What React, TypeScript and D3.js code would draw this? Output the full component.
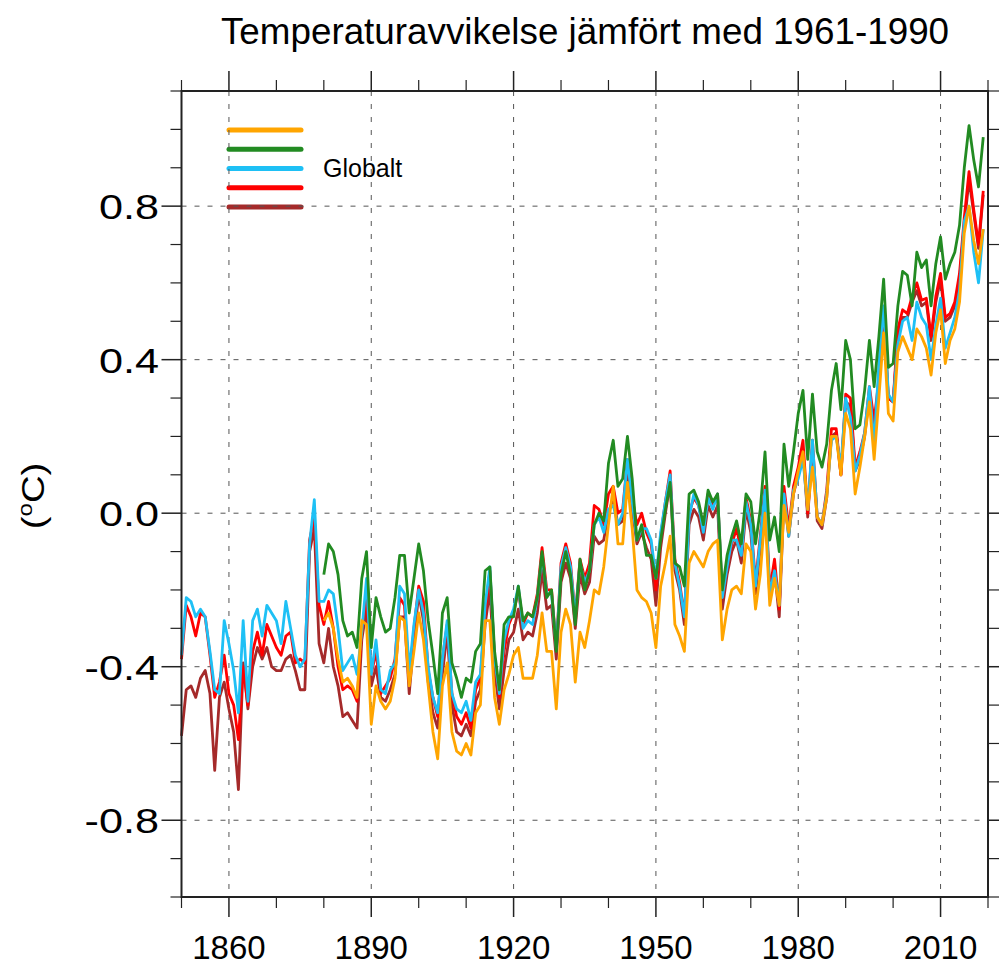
import React from "react";
import * as d3 from "d3";

// years covered by each group of series
const yearsLong = d3.range(1850, 2020); // 1850-2019
const yearsShort = d3.range(1880, 2020); // 1880-2019

// values (°C, anomaly vs 1961-1990)
const cyanValues = [
  -0.37, -0.22, -0.23, -0.27, -0.25, -0.27, -0.36, -0.46, -0.47, -0.28,
  -0.34, -0.41, -0.52, -0.28, -0.49, -0.28, -0.25, -0.32, -0.24, -0.26,
  -0.28, -0.34, -0.23, -0.3, -0.37, -0.4, -0.38, -0.08, 0.035, -0.23,
  -0.23, -0.2, -0.21, -0.3, -0.41, -0.39, -0.37, -0.42, -0.31, -0.17,
  -0.42, -0.33, -0.46, -0.47, -0.41, -0.39, -0.19, -0.21, -0.41, -0.29,
  -0.2, -0.26, -0.4, -0.48, -0.52, -0.38, -0.28, -0.47, -0.51, -0.52,
  -0.49, -0.54, -0.44, -0.42, -0.24, -0.14, -0.38, -0.47, -0.33, -0.28,
  -0.25, -0.19, -0.3, -0.28, -0.29, -0.22, -0.11, -0.21, -0.21, -0.35,
  -0.14, -0.09, -0.14, -0.27, -0.13, -0.18, -0.15, -0.03, -0.01, -0.05,
  0.01, 0.02, -0.03, 0.0, 0.14, 0.03, -0.07, -0.04, -0.04, -0.07,
  -0.17, -0.05, 0.03, 0.1, -0.13, -0.19, -0.27, -0.01, 0.05, 0.02,
  -0.05, 0.04, 0.01, 0.05, -0.22, -0.14, -0.07, -0.07, -0.11, 0.03,
  -0.03, -0.19, -0.07, 0.06, -0.21, -0.15, -0.24, 0.05, -0.06, 0.06,
  0.09, 0.14, 0.01, 0.19, -0.01, -0.03, 0.05, 0.19, 0.2, 0.12,
  0.3, 0.25, 0.11, 0.15, 0.21, 0.33, 0.18, 0.39, 0.54, 0.31,
  0.29, 0.44, 0.5, 0.51, 0.45, 0.55, 0.51, 0.49, 0.4, 0.49,
  0.56, 0.43, 0.47, 0.51, 0.58, 0.76, 0.8, 0.68, 0.6, 0.74,
];

const redValues = [
  -0.38, -0.24, -0.27, -0.32, -0.26, -0.27, -0.37, -0.48, -0.44, -0.37,
  -0.47, -0.5, -0.59, -0.4, -0.5, -0.36, -0.31, -0.37, -0.29, -0.32,
  -0.35, -0.37, -0.32, -0.31, -0.39, -0.38, -0.39, -0.07, -0.01, -0.24,
  -0.29, -0.23, -0.3, -0.4, -0.46, -0.45, -0.46, -0.49, -0.3, -0.22,
  -0.42, -0.36, -0.47, -0.45, -0.43, -0.38, -0.22, -0.24, -0.44, -0.3,
  -0.19, -0.23, -0.41, -0.48, -0.53, -0.38, -0.29, -0.47, -0.53, -0.55,
  -0.52, -0.56, -0.46, -0.43, -0.26, -0.15, -0.38, -0.48, -0.36, -0.29,
  -0.26, -0.2, -0.29, -0.26, -0.27, -0.21, -0.09, -0.2, -0.2, -0.35,
  -0.13, -0.08, -0.13, -0.27, -0.12, -0.17, -0.13, 0.02, 0.01, -0.03,
  0.05, 0.07, 0.0, 0.01, 0.14, 0.04, -0.03, 0.0, -0.05, -0.08,
  -0.2, -0.06, 0.03, 0.11, -0.12, -0.18, -0.27, 0.0, 0.04, 0.02,
  -0.04, 0.05, 0.02, 0.05, -0.22, -0.14, -0.08, -0.04, -0.1, 0.04,
  -0.02, -0.18, -0.06, 0.07, -0.2, -0.12, -0.25, 0.07, -0.04, 0.07,
  0.12, 0.19, 0.0, 0.19, -0.01, -0.03, 0.06, 0.22, 0.22, 0.1,
  0.31, 0.3, 0.12, 0.16, 0.21, 0.33, 0.24, 0.35, 0.53, 0.3,
  0.29, 0.48, 0.53, 0.52, 0.565, 0.6, 0.555, 0.56, 0.46, 0.565,
  0.625, 0.51, 0.52, 0.55, 0.625, 0.77, 0.89, 0.79, 0.7, 0.84,
];

const brownValues = [
  -0.58, -0.46, -0.45, -0.48, -0.43, -0.41, -0.47, -0.67, -0.48, -0.44,
  -0.51, -0.57, -0.72, -0.39, -0.51, -0.4, -0.35, -0.38, -0.35, -0.4,
  -0.41, -0.41, -0.38, -0.37, -0.41, -0.46, -0.46, -0.1, -0.04, -0.34,
  -0.39, -0.3, -0.4, -0.45, -0.53, -0.52, -0.54, -0.56, -0.33, -0.25,
  -0.45, -0.4, -0.48, -0.49, -0.46, -0.42, -0.27, -0.27, -0.47, -0.33,
  -0.21, -0.28, -0.44, -0.52, -0.56, -0.42, -0.31, -0.5, -0.57, -0.58,
  -0.55, -0.58, -0.49, -0.46, -0.29, -0.2, -0.41, -0.51, -0.41, -0.33,
  -0.31, -0.25, -0.33, -0.31, -0.32, -0.26, -0.15, -0.25, -0.24, -0.38,
  -0.18, -0.13, -0.17, -0.3, -0.16, -0.21, -0.18, -0.06, -0.08, -0.07,
  0.0, 0.04, -0.03, -0.02, 0.1, 0.01, -0.08, -0.05, -0.09, -0.12,
  -0.24, -0.09, 0.0, 0.08, -0.15, -0.2, -0.29, -0.03, 0.01, -0.01,
  -0.07, 0.02, -0.01, 0.02, -0.25, -0.16, -0.1, -0.07, -0.13, 0.01,
  -0.05, -0.21, -0.09, 0.05, -0.22, -0.15, -0.27, 0.04, -0.06, 0.05,
  0.1, 0.16, -0.01, 0.17, -0.02, -0.04, 0.04, 0.2, 0.21, 0.1,
  0.29, 0.28, 0.11, 0.14, 0.2, 0.31, 0.22, 0.34, 0.51, 0.3,
  0.29, 0.46, 0.51, 0.51, 0.55, 0.58, 0.54, 0.55, 0.45, 0.55,
  0.61, 0.5, 0.51, 0.54, 0.61, 0.75, 0.87, 0.78, 0.69, 0.83,
];

const greenValues = [
  -0.16, -0.08, -0.1, -0.16, -0.28, -0.32, -0.31, -0.35, -0.17, -0.1,
  -0.35, -0.22, -0.27, -0.31, -0.3, -0.22, -0.11, -0.11, -0.26, -0.17,
  -0.08, -0.15, -0.28, -0.37, -0.47, -0.26, -0.22, -0.39, -0.43, -0.48,
  -0.43, -0.44, -0.36, -0.34, -0.15, -0.14, -0.36, -0.46, -0.29, -0.27,
  -0.27, -0.19, -0.28, -0.26, -0.27, -0.22, -0.1, -0.22, -0.2, -0.36,
  -0.16, -0.1, -0.16, -0.29, -0.12, -0.2, -0.15, -0.03, 0.0, -0.02,
  0.13, 0.19, 0.07, 0.09, 0.2, 0.09, -0.07, -0.03, -0.11, -0.11,
  -0.17, -0.07, 0.01, 0.08, -0.13, -0.14, -0.19, 0.05, 0.06, 0.03,
  -0.03, 0.06, 0.03, 0.05, -0.2, -0.11, -0.06, -0.02, -0.08, 0.05,
  0.03, -0.08, 0.01, 0.16, -0.07, -0.01, -0.1, 0.18, 0.07, 0.16,
  0.26, 0.32, 0.14, 0.31, 0.16, 0.12, 0.18, 0.32, 0.39, 0.27,
  0.45, 0.4, 0.22, 0.23, 0.32, 0.45, 0.33, 0.46, 0.61, 0.38,
  0.39, 0.54, 0.63, 0.62, 0.54, 0.68, 0.64, 0.66, 0.54, 0.65,
  0.72, 0.61, 0.65, 0.68, 0.75, 0.9, 1.01, 0.92, 0.85, 0.98,
];

const orangeValues = [
  -0.28, -0.26, -0.3, -0.38, -0.44, -0.43, -0.45, -0.48, -0.28, -0.29,
  -0.55, -0.45, -0.49, -0.51, -0.49, -0.43, -0.27, -0.28, -0.45, -0.36,
  -0.26, -0.33, -0.45, -0.57, -0.64, -0.45, -0.39, -0.57, -0.62, -0.63,
  -0.6, -0.63, -0.52, -0.5, -0.28, -0.28, -0.48, -0.55, -0.46, -0.42,
  -0.37, -0.35, -0.43, -0.43, -0.43, -0.37, -0.26, -0.36, -0.36, -0.51,
  -0.31, -0.25, -0.29, -0.44, -0.31, -0.35, -0.28, -0.2, -0.21, -0.14,
  -0.03, 0.07, -0.08, -0.08, 0.08, -0.04, -0.2, -0.22, -0.23, -0.26,
  -0.35, -0.19, -0.13, -0.06, -0.29, -0.32, -0.36, -0.13, -0.1, -0.12,
  -0.14, -0.1, -0.08, -0.07, -0.33, -0.25, -0.2, -0.19, -0.21, -0.08,
  -0.1, -0.25, -0.16, 0.0, -0.24, -0.17, -0.24, 0.02, -0.05, 0.05,
  0.11, 0.16, 0.01, 0.12, -0.01, -0.03, 0.04, 0.2, 0.2, 0.1,
  0.26, 0.22, 0.05, 0.12, 0.2, 0.29, 0.14, 0.3, 0.47, 0.26,
  0.24, 0.42, 0.46, 0.43, 0.4, 0.48, 0.46, 0.43, 0.36, 0.47,
  0.53, 0.39, 0.45, 0.48, 0.55, 0.73, 0.8, 0.71, 0.65, 0.74,
];

const xMajorTicks = [1860, 1890, 1920, 1950, 1980, 2010];
const yMajorTicks = [-0.8, -0.4, 0.0, 0.4, 0.8];

const title = "Temperaturavvikelse jämfört med 1961-1990";
const legendTitle = "Globalt";

// drawing order (last on top)
const series = [
  { key: "brown", color: "#a52a2a", years: yearsLong, values: brownValues },
  { key: "red", color: "#ff0000", years: yearsLong, values: redValues },
  { key: "cyan", color: "#1ec0f5", years: yearsLong, values: cyanValues },
  { key: "green", color: "#228b22", years: yearsShort, values: greenValues },
  { key: "orange", color: "#ffa500", years: yearsShort, values: orangeValues },
];
const legendOrder = ["orange", "green", "cyan", "red", "brown"];

const W = 999;
const H = 976;
const plot = { left: 181.5, right: 988, top: 91, bottom: 897 };

export default function App() {
  const x = d3.scaleLinear().domain([1850, 2020]).range([plot.left, plot.right]);
  const y = d3.scaleLinear().domain([-1.0, 1.1]).range([plot.bottom, plot.top]);

  const xMinor = d3.range(1850, 2021, 10).filter((d) => !xMajorTicks.includes(d));
  const yMinor = d3
    .range(-10, 12)
    .map((d) => d / 10)
    .filter((d) => !yMajorTicks.some((m) => Math.abs(m - d) < 1e-6));

  const line = d3
    .line<[number, number]>()
    .x((d) => x(d[0]))
    .y((d) => y(d[1]));

  const legendY = d3.scaleLinear().domain([0, 4]).range([130, 207]);
  const font = "'Liberation Sans', Arial, Helvetica, sans-serif";
  const gridStyle = { stroke: "#555", strokeWidth: 1, strokeDasharray: "5,8" };

  return (
    <svg
      width={W}
      height={H}
      style={{ position: "absolute", left: 0, top: 0, background: "#fff" }}
      fontFamily={font}
    >
      <text x={585} y={44} textAnchor="middle" fontSize={36.8} fill="#000">
        {title}
      </text>

      {/* legend */}
      {legendOrder.map((k, i) => {
        const s = series.find((d) => d.key === k)!;
        return (
          <line
            key={k}
            x1={229}
            x2={301}
            y1={legendY(i)}
            y2={legendY(i)}
            stroke={s.color}
            strokeWidth={5}
            strokeLinecap="round"
          />
        );
      })}
      <text x={323} y={177} fontSize={25} fill="#000">
        {legendTitle}
      </text>

      {/* grid */}
      {xMajorTicks.map((t) => (
        <line key={"gx" + t} x1={x(t)} x2={x(t)} y1={plot.top} y2={plot.bottom} style={gridStyle} />
      ))}
      {yMajorTicks.map((t) => (
        <line key={"gy" + t} x1={plot.left} x2={plot.right} y1={y(t)} y2={y(t)} style={gridStyle} />
      ))}

      {/* series */}
      {series.map((s) => (
        <path
          key={s.key}
          d={line(s.years.map((yr, i) => [yr, s.values[i]] as [number, number])) || ""}
          fill="none"
          stroke={s.color}
          strokeWidth={2.8}
          strokeLinejoin="round"
        />
      ))}

      {/* frame */}
      <rect
        x={plot.left}
        y={plot.top}
        width={plot.right - plot.left}
        height={plot.bottom - plot.top}
        fill="none"
        stroke="#222"
        strokeWidth={2}
      />

      {/* x ticks, bottom & top */}
      {xMajorTicks.map((t) => (
        <g key={"xt" + t} stroke="#222" strokeWidth={1.5}>
          <line x1={x(t)} x2={x(t)} y1={plot.bottom} y2={plot.bottom + 20} />
          <line x1={x(t)} x2={x(t)} y1={plot.top} y2={plot.top - 20} />
        </g>
      ))}
      {xMinor.map((t) => (
        <g key={"xm" + t} stroke="#222" strokeWidth={1.2}>
          <line x1={x(t)} x2={x(t)} y1={plot.bottom} y2={plot.bottom + 11} />
          <line x1={x(t)} x2={x(t)} y1={plot.top} y2={plot.top - 11} />
        </g>
      ))}
      {xMajorTicks.map((t) => (
        <text key={"xl" + t} x={x(t)} y={959} textAnchor="middle" fontSize={33} fill="#000">
          {t}
        </text>
      ))}

      {/* y ticks, left & right */}
      {yMajorTicks.map((t) => (
        <g key={"yt" + t} stroke="#222" strokeWidth={1.5}>
          <line x1={plot.left} x2={plot.left - 20} y1={y(t)} y2={y(t)} />
          <line x1={plot.right} x2={plot.right + 20} y1={y(t)} y2={y(t)} />
        </g>
      ))}
      {yMinor.map((t) => (
        <g key={"ym" + t} stroke="#222" strokeWidth={1.2}>
          <line x1={plot.left} x2={plot.left - 11} y1={y(t)} y2={y(t)} />
          <line x1={plot.right} x2={plot.right + 11} y1={y(t)} y2={y(t)} />
        </g>
      ))}
      {yMajorTicks.map((t) => (
        <text
          key={"yl" + t}
          transform={`translate(159, ${y(t)}) scale(1.2, 1)`}
          dy="0.36em"
          textAnchor="end"
          fontSize={36}
          fill="#000"
        >
          {t.toFixed(1)}
        </text>
      ))}

      {/* y axis title */}
      <text
        transform={`translate(44, ${y(0.045)}) rotate(-90) scale(1.2, 1)`}
        textAnchor="middle"
        fontSize={32}
        fill="#000"
      >
        (<tspan fontSize={20} dy={-12}>o</tspan>
        <tspan dy={12}>C)</tspan>
      </text>
    </svg>
  );
}
